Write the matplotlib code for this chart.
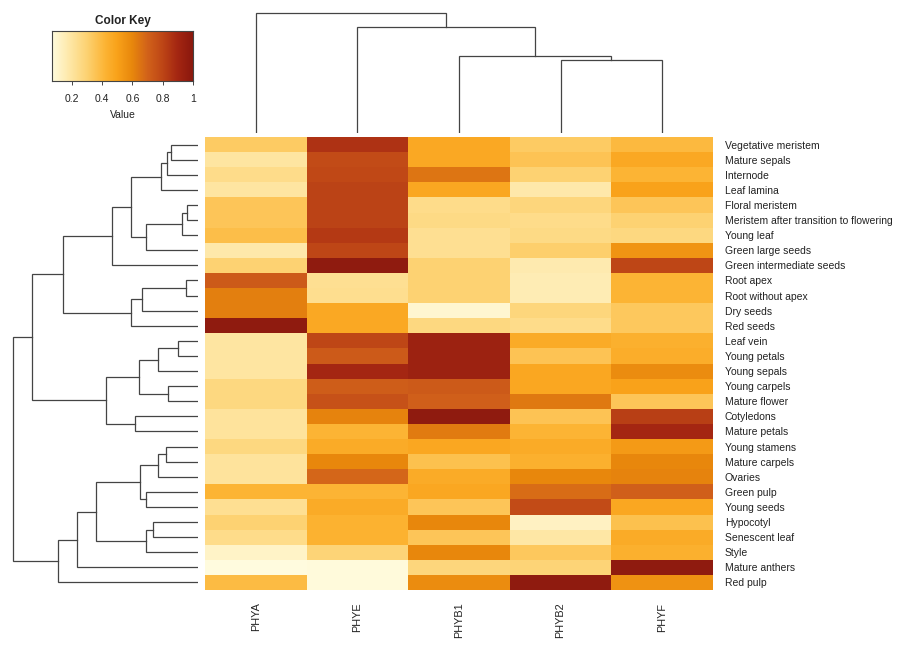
import numpy as np
import matplotlib
matplotlib.use("Agg")
import matplotlib.pyplot as plt
from matplotlib.colors import LinearSegmentedColormap

plt.rcParams['font.family'] = ['Liberation Sans', 'DejaVu Sans']

genes = ["PHYA", "PHYE", "PHYB1", "PHYB2", "PHYF"]
tissues = ["Vegetative meristem", "Mature sepals", "Internode", "Leaf lamina",
           "Floral meristem", "Meristem after transition to flowering", "Young leaf",
           "Green large seeds", "Green intermediate seeds", "Root apex",
           "Root without apex", "Dry seeds", "Red seeds", "Leaf vein", "Young petals",
           "Young sepals", "Young carpels", "Mature flower", "Cotyledons",
           "Mature petals", "Young stamens", "Mature carpels", "Ovaries", "Green pulp",
           "Young seeds", "Hypocotyl", "Senescent leaf", "Style", "Mature anthers",
           "Red pulp"]

phya = [0.33, 0.20, 0.25, 0.20, 0.35, 0.35, 0.38, 0.18, 0.30, 0.73, 0.62, 0.62, 0.98, 0.20, 0.20,
        0.20, 0.27, 0.27, 0.21, 0.21, 0.27, 0.21, 0.21, 0.42, 0.23, 0.30, 0.25, 0.12, 0.07, 0.39]
phye = [0.86, 0.78, 0.79, 0.81, 0.81, 0.81, 0.84, 0.80, 0.98, 0.23, 0.24, 0.47, 0.47, 0.80, 0.73,
        0.90, 0.72, 0.76, 0.61, 0.42, 0.46, 0.60, 0.69, 0.42, 0.46, 0.43, 0.43, 0.29, 0.08, 0.08]
phyb1 = [0.47, 0.47, 0.65, 0.48, 0.25, 0.26, 0.23, 0.23, 0.30, 0.30, 0.30, 0.10, 0.27, 0.93, 0.93,
         0.93, 0.73, 0.71, 0.98, 0.63, 0.48, 0.37, 0.46, 0.48, 0.35, 0.60, 0.35, 0.60, 0.28, 0.58]
phyb2 = [0.33, 0.36, 0.30, 0.18, 0.28, 0.25, 0.26, 0.31, 0.17, 0.16, 0.16, 0.28, 0.25, 0.46, 0.36,
         0.48, 0.48, 0.64, 0.36, 0.42, 0.46, 0.44, 0.60, 0.67, 0.78, 0.13, 0.19, 0.34, 0.29, 0.98]
phyf = [0.40, 0.47, 0.42, 0.50, 0.35, 0.30, 0.27, 0.55, 0.80, 0.42, 0.42, 0.34, 0.34, 0.44, 0.45,
        0.58, 0.50, 0.35, 0.82, 0.90, 0.53, 0.60, 0.61, 0.71, 0.48, 0.37, 0.46, 0.44, 0.98, 0.56]

# Row dendrogram merges: (left, right, height); leaves 0..29, new clusters 30+
row_merges = [(0, 1, 27), (30, 2, 31), (31, 3, 37), (4, 5, 11), (33, 6, 16), (34, 7, 52),
              (32, 35, 67), (36, 8, 86), (9, 10, 12), (38, 11, 56), (39, 12, 67),
              (37, 40, 135), (13, 14, 20), (42, 15, 40), (16, 17, 30), (43, 44, 59),
              (18, 19, 63), (45, 46, 92), (41, 47, 166), (20, 21, 32), (49, 22, 40),
              (23, 24, 52), (50, 51, 58), (25, 26, 45), (53, 27, 52), (52, 54, 102),
              (55, 28, 121), (56, 29, 140), (48, 57, 185)]
# Column dendrogram merges; leaves 0..4
col_merges = [(3, 4, 73), (2, 5, 77), (1, 6, 106), (0, 7, 120)]

key_ticks = [0.2, 0.4, 0.6, 0.8, 1.0]
key_labels = ["0.2", "0.4", "0.6", "0.8", "1"]
vmin, vmax = 0.07, 1.0

data = np.column_stack([phya, phye, phyb1, phyb2, phyf])

nodes = [(0.07, '#FFFBDE'), (0.2, '#FEE5A0'), (0.3, '#FDD272'), (0.42, '#FCB434'),
         (0.5, '#F9A21A'), (0.6, '#E8870C'), (0.7, '#D2621A'), (0.8, '#BE4616'),
         (0.9, '#A42612'), (1.0, '#8A180E')]
cmap = LinearSegmentedColormap.from_list(
    "key", [((v - vmin) / (vmax - vmin), c) for v, c in nodes])

W, H = 900, 651
fig = plt.figure(figsize=(9, 6.51), dpi=100)


def px_axes(x0, y0, x1, y1):
    return fig.add_axes([x0 / W, 1 - y1 / H, (x1 - x0) / W, (y1 - y0) / H])


def draw_dendro(ax, merges, n, vertical, color='#444444', lw=0.9):
    pos = {i: float(i) for i in range(n)}
    hgt = {i: 0.0 for i in range(n)}
    for k, (a, b, h) in enumerate(merges):
        pa, pb, ha, hb = pos[a], pos[b], hgt[a], hgt[b]
        if vertical:
            ax.plot([pa, pa, pb, pb], [ha, h, h, hb], color=color, lw=lw,
                    solid_joinstyle='miter')
        else:
            ax.plot([ha, h, h, hb], [pa, pa, pb, pb], color=color, lw=lw,
                    solid_joinstyle='miter')
        pos[n + k] = (pa + pb) / 2
        hgt[n + k] = h


text_color = '#222222'

# Heatmap
hx0, hy0, hx1, hy1 = 205, 137, 713, 590
ax = px_axes(hx0, hy0, hx1, hy1)
ax.pcolormesh(np.arange(len(genes) + 1) - 0.5, np.arange(len(tissues) + 1) - 0.5, data,
              cmap=cmap, vmin=vmin, vmax=vmax)
ax.set_xlim(-0.5, len(genes) - 0.5)
ax.set_ylim(len(tissues) - 0.5, -0.5)
ax.yaxis.tick_right()
ax.set_yticks(range(len(tissues)))
ax.set_yticklabels(tissues, fontsize=7.5, color=text_color)
ax.set_xticks(range(len(genes)))
ax.set_xticklabels(genes, rotation=90, fontsize=7.8, color=text_color, va='top')
ax.tick_params(length=0, pad=9)
ax.tick_params(axis='y', pad=8.5)
for s in ax.spines.values():
    s.set_visible(False)

# Row dendrogram
axr = px_axes(0, hy0, 198, hy1)
draw_dendro(axr, row_merges, len(tissues), vertical=False)
axr.set_xlim(198, 0)
axr.set_ylim(len(tissues) - 0.5, -0.5)
axr.axis('off')

# Column dendrogram
axc = px_axes(hx0, 10, hx1, 133)
draw_dendro(axc, col_merges, len(genes), vertical=True)
axc.set_xlim(-0.5, len(genes) - 0.5)
axc.set_ylim(0, 123)
axc.axis('off')

# Color key
axk = px_axes(52, 31, 193, 81)
grad = np.linspace(vmin, vmax, 256)[None, :]
axk.imshow(grad, cmap=cmap, vmin=vmin, vmax=vmax, aspect='auto',
           extent=(vmin, vmax, 0, 1))
axk.set_xlim(vmin, vmax)
axk.set_yticks([])
axk.set_xticks(key_ticks)
axk.set_xticklabels(key_labels, fontsize=7.5, color=text_color)
axk.tick_params(axis='x', length=3, width=0.7, color='#444444', pad=6)
axk.set_xlabel("Value", fontsize=7.5, color=text_color, labelpad=5)
axk.set_title("Color Key", fontsize=8.5, fontweight='bold', color=text_color, pad=5)
for s in axk.spines.values():
    s.set_linewidth(0.8)
    s.set_color('#444444')

fig.savefig("out.png", dpi=100, facecolor='white')
